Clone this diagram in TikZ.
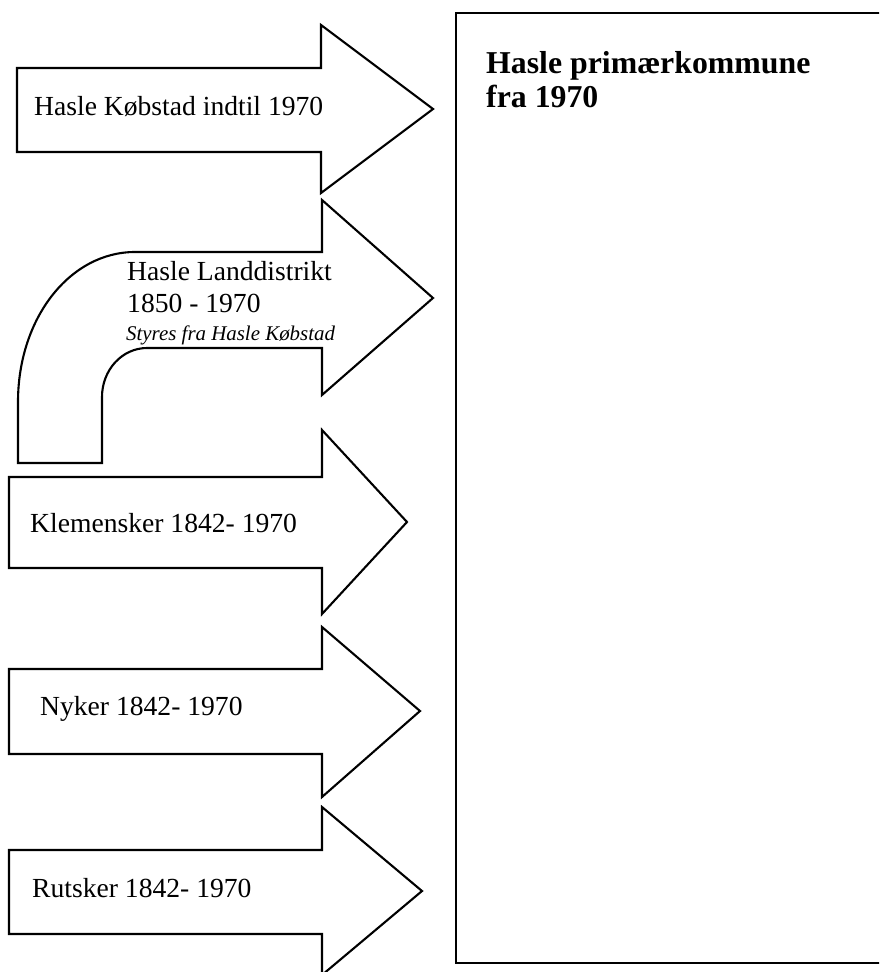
\documentclass[tikz,border=0pt]{standalone}
\usepackage{fontspec}
\setmainfont{Liberation Serif}
\begin{document}
\begin{tikzpicture}[x=1pt,y=-1pt,
  shapeline/.style={draw=black,line width=2.1pt,line join=miter,fill=white},
  armtext/.style={anchor=base west,inner sep=0pt,font=\fontsize{27.6}{30}\selectfont},
  subtext/.style={anchor=base west,inner sep=0pt,font=\fontsize{20.9}{24}\selectfont\itshape},
  titletext/.style={anchor=base west,inner sep=0pt,font=\fontsize{31.8}{34}\selectfont\bfseries}]
\clip (0,0) rectangle (879,972);
\fill[white] (0,0) rectangle (879,972);
% arrow 1
\draw[shapeline] (17,68) -- (321,68) -- (321,25) -- (433,109) -- (321,193) -- (321,152) -- (17,152) -- cycle;
% arrow 2 (bent)
\draw[shapeline] (18,463) -- (18,402)
  .. controls (18,318) and (70,252) .. (135,252)
  -- (322,252) -- (322,200) -- (433,298) -- (322,395) -- (322,348) -- (147,348)
  .. controls (122,348) and (102,370) .. (102,397)
  -- (102,463) -- cycle;
% arrow 3
\draw[shapeline] (9,477) -- (322,477) -- (322,430) -- (407,522) -- (322,614) -- (322,568) -- (9,568) -- cycle;
% arrow 4
\draw[shapeline] (9,669) -- (322,669) -- (322,627) -- (420,711) -- (322,797) -- (322,754) -- (9,754) -- cycle;
% arrow 5
\draw[shapeline] (9,850) -- (322,850) -- (322,807) -- (422,891) -- (322,975) -- (322,934) -- (9,934) -- cycle;
% result box
\draw[line width=2.1pt] (456,13) rectangle (884,963);
% texts
\node[armtext] (kobstad) at (34,115) {Hasle Købstad indtil 1970};
\node[armtext] (land1) at (127,280) {Hasle Landdistrikt};
\node[armtext] (land2) at (127,312) {1850 - 1970};
\node[subtext] (land3) at (126,340) {Styres fra Hasle Købstad};
\node[armtext] (klem) at (30,532) {Klemensker 1842- 1970};
\node[armtext] (nyker) at (40,715) {Nyker 1842- 1970};
\node[armtext] (rutsker) at (32,897) {Rutsker 1842- 1970};
\node[titletext] (title1) at (486,73) {Hasle primærkommune};
\node[titletext] (title2) at (486,107) {fra 1970};
\end{tikzpicture}
\end{document}
